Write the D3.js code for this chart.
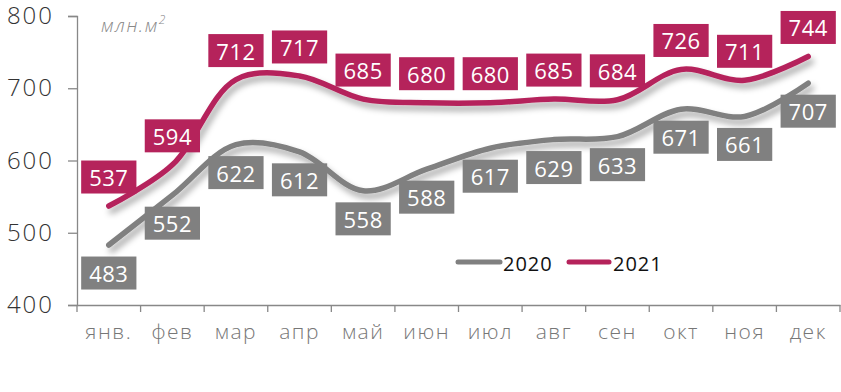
<!DOCTYPE html>
<html><head><meta charset="utf-8">
<script src="https://cdn.jsdelivr.net/npm/d3@7"></script>
<style>
body{margin:0;background:#fff;}
svg{display:block;font-family:"Open Sans",sans-serif;}
</style></head>
<body><svg id="c" width="841" height="392"></svg>
<script>
const months = ["янв.","фев","мар","апр","май","июн","июл","авг","сен","окт","ноя","дек"];
const values2020 = [483,552,622,612,558,588,617,629,633,671,661,707];
const values2021 = [537,594,712,717,685,680,680,685,684,726,711,744];
const yTicks = [400,500,600,700,800];
const seriesNames = ["2020","2021"];
const colors = ["#808080","#B5235B"];

(function(){
const svg = d3.select("#c");
const mLeft = 77, mRight = 840, mTop = 16, mBottom = 305;
const x = d3.scaleBand().domain(months).range([mLeft, mRight]);
const cx = d => x(d) + x.bandwidth()/2;
const y = d3.scaleLinear().domain([400,800]).range([mBottom, mTop]);

const defs = svg.append("defs");
const f = defs.append("filter").attr("id","sh").attr("x","-10%").attr("y","-30%").attr("width","130%").attr("height","180%");
f.append("feDropShadow").attr("dx",3).attr("dy",5).attr("stdDeviation",3).attr("flood-color","#000").attr("flood-opacity",0.35);

// Y axis
const ya = svg.append("g").attr("transform",`translate(${mLeft},0)`)
  .call(d3.axisLeft(y).tickValues(yTicks).tickSize(9).tickPadding(14).tickFormat(d3.format("d")));
ya.select(".domain").attr("stroke","#888").attr("stroke-width",1.3);
ya.selectAll(".tick line").attr("stroke","#888").attr("stroke-width",1.3);
ya.selectAll(".tick text").attr("font-size",24).attr("font-weight",300).attr("fill","#333")
  .attr("font-family","Open Sans, sans-serif").attr("letter-spacing","2px");

// X axis
const xa = svg.append("g").attr("transform",`translate(0,${mBottom})`)
  .call(d3.axisBottom(x).tickSize(0).tickPadding(19));
xa.select(".domain").attr("stroke","#888").attr("stroke-width",1.3);
xa.selectAll(".tick text").attr("font-size",21).attr("font-weight",300).attr("fill","#777")
  .attr("font-family","Open Sans, sans-serif").attr("letter-spacing","1.5px");
const bounds = months.map(m => x(m)).concat([mRight]);
svg.append("g").selectAll("line").data(bounds).join("line")
  .attr("x1",d=>d).attr("x2",d=>d).attr("y1",mBottom).attr("y2",mBottom+7)
  .attr("stroke","#888").attr("stroke-width",1.3);

// unit label
const ul = svg.append("text").attr("x",101).attr("y",32).attr("font-size",19).attr("font-style","italic")
  .attr("font-weight",300).attr("fill","#888").attr("letter-spacing","1.5px");
ul.append("tspan").text("млн.м");
ul.append("tspan").attr("font-size",12).attr("dy",-8).text("2");

// lines
const line = d3.line().x((d,i)=>cx(months[i])).y(d=>y(d)).curve(d3.curveCatmullRom.alpha(0.5));
[values2020, values2021].forEach((vals,k)=>{
  svg.append("path").attr("d",line(vals)).attr("fill","none").attr("stroke",colors[k])
    .attr("stroke-width",5.5).attr("stroke-linecap","round").attr("filter","url(#sh)");
});

// labels
function labels(vals, k, offset){
  const g = svg.append("g");
  vals.forEach((v,i)=>{
    const px = cx(months[i]), py = y(v) + offset;
    const gg = g.append("g");
    const t = gg.append("text").attr("x",px).attr("y",py).attr("text-anchor","middle")
      .attr("dominant-baseline","central").attr("font-size",22).attr("font-family","Open Sans, sans-serif")
      .attr("letter-spacing","0.5px").attr("fill","#fff").text(v);
    const w = t.node().getComputedTextLength();
    gg.insert("rect","text").attr("x",px - w/2 - 8).attr("y",py-16.5).attr("width",w+16).attr("height",33).attr("fill",colors[k]);
  });
}
labels(values2020, 0, 28);
labels(values2021, 1, -29);

// legend
const lg = svg.append("g");
const legendItems = [{x1:458,x2:500,tx:503},{x1:569,x2:609,tx:613}];
legendItems.forEach((it,k)=>{
  lg.append("line").attr("x1",it.x1).attr("x2",it.x2).attr("y1",262).attr("y2",262)
    .attr("stroke",colors[k]).attr("stroke-width",5).attr("stroke-linecap","round");
  lg.append("text").attr("x",it.tx).attr("y",263).attr("dominant-baseline","central")
    .attr("font-size",20).attr("letter-spacing","1px").attr("fill","#111").text(seriesNames[k]);
});
})();
</script></body></html>
